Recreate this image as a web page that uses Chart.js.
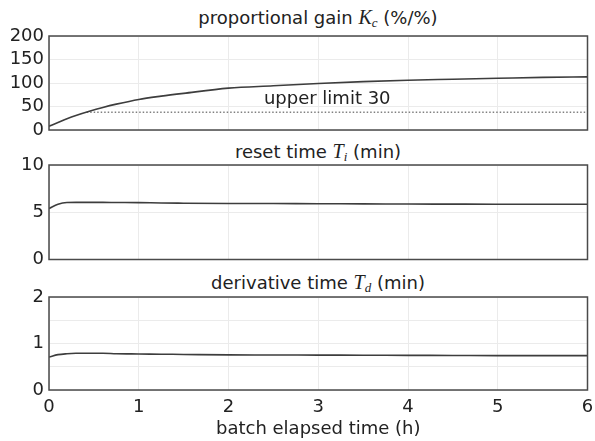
<!DOCTYPE html>
<html>
<head>
<meta charset="utf-8">
<script src="https://cdn.jsdelivr.net/npm/chart.js@4.4.1/dist/chart.umd.min.js"></script>
<style>
  html, body { margin: 0; padding: 0; background: #fff; }
  #wrap { position: relative; width: 595px; height: 441px; overflow: hidden; }
  canvas { position: absolute; left: 0; }
  .title {
    position: absolute; left: 49px; width: 538px; text-align: center;
    font-family: "DejaVu Sans", sans-serif; font-size: 18px; color: #222;
    line-height: 20px; white-space: nowrap;
  }
  .m { font-family: "Liberation Serif", serif; font-style: italic; font-size: 20px; }
  .m sub { font-size: 13px; vertical-align: -3px; line-height: 0; }
</style>
</head>
<body>
<div id="wrap">
  <div class="title" style="top:7px">proportional gain <span class="m">K<sub>c</sub></span> (%/%)</div>
  <div class="title" style="top:141px">reset time <span class="m">T<sub>i</sub></span> (min)</div>
  <div class="title" style="top:272px">derivative time <span class="m">T<sub>d</sub></span> (min)</div>
  <canvas id="kc" width="595" height="140" style="top:0"></canvas>
  <canvas id="ti" width="595" height="130" style="top:140px"></canvas>
  <canvas id="td" width="595" height="171" style="top:270px"></canvas>
</div>
<script>
// batch elapsed time (h)
const times = [0, 0.1, 0.2, 0.3, 0.45, 0.6, 0.75, 1, 1.25, 1.5, 2, 2.5, 3, 3.5, 4, 4.5, 5, 5.5, 6]
// tuning parameters
const kcValues = [8, 16, 24, 31, 40, 48, 55, 65, 72, 78, 89, 94, 99, 103, 106, 108, 110, 112, 113]
const tiValues = [5.4, 5.85, 6.03, 6.04, 6.04, 6.04, 6.03, 6.02, 5.98, 5.96, 5.93, 5.92, 5.9, 5.89, 5.87, 5.86, 5.85, 5.85, 5.84]
const tdValues = [0.71, 0.76, 0.78, 0.79, 0.79, 0.79, 0.78, 0.775, 0.77, 0.765, 0.755, 0.753, 0.75, 0.748, 0.745, 0.743, 0.74, 0.74, 0.74]
// dotted upper limit line
const limitTimes = [0.42, 6]
const limitValues = [38, 38]
const limitLabel = 'upper limit 30'
const xTicks = [0, 1, 2, 3, 4, 5, 6]

const FONT = { family: 'DejaVu Sans', size: 18 }
const GRID = '#ebebeb'
const LINE = '#3d3d3d'

const toPoints = (xs, ys) => xs.map((x, i) => ({ x: x, y: ys[i] }))

// box around the plot area
const framePlugin = {
  id: 'frame',
  afterDraw(chart) {
    const a = chart.chartArea
    const ctx = chart.ctx
    ctx.save()
    ctx.strokeStyle = '#4a4a4a'
    ctx.lineWidth = 1.5
    ctx.strokeRect(a.left, a.top, a.right - a.left, a.bottom - a.top)
    ctx.restore()
  }
}

const limitTextPlugin = {
  id: 'limitText',
  afterDatasetsDraw(chart) {
    if (chart.canvas.id !== 'kc') return
    const { x, y } = chart.scales
    const ctx = chart.ctx
    ctx.save()
    ctx.font = '18px "DejaVu Sans"'
    ctx.fillStyle = '#222'
    ctx.textAlign = 'center'
    ctx.textBaseline = 'middle'
    ctx.fillText(limitLabel, x.getPixelForValue(3.1), y.getPixelForValue(66))
    ctx.restore()
  }
}

// labels may hang over the plot edges; don't let them shrink the plot area
function noLabelPadding(s) {
  s.paddingLeft = 0
  s.paddingRight = 0
  s.paddingTop = 0
  s.paddingBottom = 0
}

// nudge layout padding until the plot area sits where the three panels line up
function fitArea(chart, pad, box) {
  for (let i = 0; i < 4; i++) {
    const a = chart.chartArea
    pad.left += box.left - a.left
    pad.top += box.top - a.top
    pad.right += a.right - box.right
    pad.bottom += a.bottom - box.bottom
    chart.update('none')
  }
}

function makeChart(id, datasets, yOpts, box, showX) {
  const pad = { left: 0, top: 0, right: 0, bottom: 0 }
  const xScale = {
    type: 'linear', min: 0, max: 6,
    afterBuildTicks: (s) => { s.ticks = xTicks.map(v => ({ value: v })) },
    grid: { color: GRID, drawTicks: false },
    border: { display: false },
    ticks: { display: showX, color: '#222', font: FONT, padding: 7 },
    title: {
      display: showX, text: 'batch elapsed time (h)', color: '#222',
      font: FONT, padding: { top: 0, bottom: 1 }
    },
    afterFit: (s) => { s.height = showX ? 51 : 0; noLabelPadding(s) }
  }
  const chart = new Chart(document.getElementById(id), {
    type: 'scatter',
    data: { datasets: datasets },
    options: {
      responsive: false,
      animation: false,
      layout: { padding: pad },
      plugins: { legend: { display: false }, tooltip: { enabled: false } },
      scales: {
        x: xScale,
        y: Object.assign({
          grid: { color: GRID, drawTicks: false },
          border: { display: false },
          afterFit: (s) => { s.width = 49; noLabelPadding(s) }
        }, yOpts)
      }
    },
    plugins: [framePlugin, limitTextPlugin]
  })
  fitArea(chart, pad, box)
  return chart
}

const lineStyle = {
  showLine: true, pointRadius: 0, borderColor: LINE, borderWidth: 1.6,
  cubicInterpolationMode: 'monotone'
}

makeChart('kc', [
  Object.assign({ data: toPoints(times, kcValues) }, lineStyle),
  { data: toPoints(limitTimes, limitValues), showLine: true, pointRadius: 0,
    borderColor: '#808080', borderWidth: 1.5, borderDash: [1.5, 2] }
], {
  min: 0, max: 200,
  ticks: { stepSize: 50, autoSkip: false, color: '#222', font: FONT, padding: 5 }
}, { left: 49, top: 36, right: 587.5, bottom: 130 }, false)

makeChart('ti', [
  Object.assign({ data: toPoints(times, tiValues) }, lineStyle)
], {
  min: 0, max: 10,
  ticks: { stepSize: 5, autoSkip: false, color: '#222', font: FONT, padding: 5 }
}, { left: 49, top: 25, right: 587.5, bottom: 119.5 }, false)

makeChart('td', [
  Object.assign({ data: toPoints(times, tdValues) }, lineStyle)
], {
  min: 0, max: 2,
  ticks: {
    stepSize: 0.5, autoSkip: false, color: '#222', font: FONT, padding: 5,
    callback: (v) => Number.isInteger(v) ? v : ''
  }
}, { left: 49, top: 27, right: 587.5, bottom: 120 }, true)
</script>
</body>
</html>
